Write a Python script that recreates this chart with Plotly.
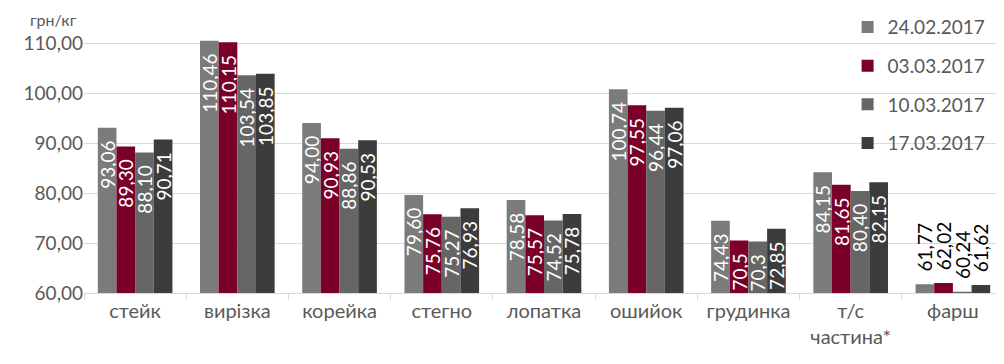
import plotly.graph_objects as go

categories = ["стейк", "вирізка", "корейка", "стегно", "лопатка", "ошийок",
              "грудинка", "т/с<br>частина*", "фарш"]
series_names = ["24.02.2017", "03.03.2017", "10.03.2017", "17.03.2017"]

v_2402 = [93.06, 110.46, 94.00, 79.60, 78.58, 100.74, 74.43, 84.15, 61.77]
v_0303 = [89.30, 110.15, 90.93, 75.76, 75.57, 97.55, 70.5, 81.65, 62.02]
v_1003 = [88.10, 103.54, 88.86, 75.27, 74.52, 96.44, 70.3, 80.40, 60.24]
v_1703 = [90.71, 103.85, 90.53, 76.93, 75.78, 97.06, 72.85, 82.15, 61.62]

t_2402 = ["93,06", "110,46", "94,00", "79,60", "78,58", "100,74", "74,43", "84,15", "61,77"]
t_0303 = ["89,30", "110,15", "90,93", "75,76", "75,57", "97,55", "70,5", "81,65", "62,02"]
t_1003 = ["88,10", "103,54", "88,86", "75,27", "74,52", "96,44", "70,3", "80,40", "60,24"]
t_1703 = ["90,71", "103,85", "90,53", "76,93", "75,78", "97,06", "72,85", "82,15", "61,62"]

colors = ["#7b7b7b", "#7a0029", "#666666", "#3c3c3c"]
FONT = "Lato"
NB = "\u00a0"

fig = go.Figure()
for name, vals, txt, col in zip(series_names, [v_2402, v_0303, v_1003, v_1703],
                                [t_2402, t_0303, t_1003, t_1703], colors):
    n = len(vals)
    positions = ["inside"] * (n - 1) + ["outside"]
    tcolors = ["white"] * (n - 1) + ["black"]
    labels = [t + NB * 2 for t in txt[:-1]] + [NB * 2 + txt[-1]]
    fig.add_trace(go.Bar(
        x=categories, y=vals, name=name,
        marker=dict(color=col, line=dict(width=0)),
        text=labels,
        textposition=positions,
        insidetextanchor="end",
        textangle=-90,
        textfont=dict(family=FONT, size=19, color=tcolors),
        constraintext="none",
        cliponaxis=False,
        legendgroup=name,
        hoverinfo="x+y",
    ))

# page body has an 8px margin: compensate so the plot area lands where intended
fig.update_layout(
    width=996, height=356,
    margin=dict(l=76, r=0, t=10, b=71, autoexpand=False),
    paper_bgcolor="white", plot_bgcolor="white",
    barmode="group", bargap=0.27, bargroupgap=0,
    separators=", ",
    font=dict(family=FONT, size=18, color="#595959"),
    legend=dict(
        x=0.830, xanchor="left", y=1.036, yanchor="top",
        bgcolor="rgba(0,0,0,0)",
        font=dict(family=FONT, size=19, color="#595959"),
        tracegroupgap=11, itemwidth=30,
    ),
    showlegend=True,
    annotations=[dict(
        text="грн/кг", xref="paper", yref="paper", x=-0.033, y=1.036,
        xanchor="center", yanchor="top",
        showarrow=False, font=dict(family=FONT, size=16, color="#595959"),
    )],
)

fig.update_yaxes(
    range=[60, 115], tickvals=[60, 70, 80, 90, 100, 110], tickformat=".2f",
    showgrid=True, gridcolor="#d9d9d9", gridwidth=1,
    zeroline=False, showline=False, ticks="", automargin=False,
    tickfont=dict(family=FONT, size=19, color="#595959"),
)
fig.update_xaxes(
    showline=True, linecolor="#d9d9d9", linewidth=1,
    ticks="outside", tickson="boundaries", ticklen=6, tickcolor="#d9d9d9",
    automargin=False,
    tickfont=dict(family=FONT, size=20, color="#595959"),
)

fig.write_html("out.html")
